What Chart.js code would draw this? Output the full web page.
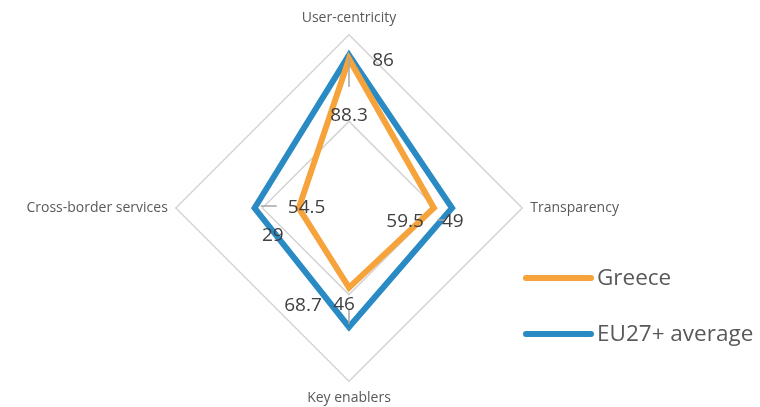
<!DOCTYPE html>
<html>
<head>
<meta charset="utf-8">
<script src="https://cdn.jsdelivr.net/npm/chart.js@4.4.1/dist/chart.umd.min.js"></script>
<style>
  html, body { margin: 0; padding: 0; background: #ffffff; }
  #wrap { position: relative; width: 760px; height: 407px; }
</style>
</head>
<body>
<div id="wrap"><canvas id="radar"></canvas></div>
<script>
// ---- data ----
const axes = ["User-centricity", "Transparency", "Key enablers", "Cross-border services"];
const seriesNames = ["Greece", "EU27+ average"];
const greece = [86, 49, 46, 29];
const eu27 = [88.3, 59.5, 68.7, 54.5];

const orange = "#f5a33a";
const blue = "#2a8bc4";
const textGrey = "#595959";
const font = "'Open Sans', sans-serif";

// label offsets from each point, in px (text centre)
const labelOffsets = [
  [[34, 2], [19, 14], [-5, 17], [-26, 28]],   // Greece
  [[0, 61], [-47, 14], [-46, -21], [52, 0]]   // EU27+
];
// small grey leader ticks, relative to the EU27+ points
const leaders = [
  [[0, 3], [0, 32]],
  [[-6, 12], [-15, 12]],
  [[0, -3], [0, -18]],
  [[6, -2], [22, -2]]
];

/* draws value labels, leader ticks and the legend */
const valueLabels = {
  id: "valueLabels",
  afterDatasetsDraw(chart) {
    const ctx = chart.ctx;
    const r = chart.scales.r;
    ctx.save();

    // leader ticks
    ctx.strokeStyle = "#a6a6a6";
    ctx.lineWidth = 1.5;
    eu27.forEach((v, i) => {
      const p = r.getPointPositionForValue(i, v);
      const [a, b] = leaders[i];
      ctx.beginPath();
      ctx.moveTo(p.x + a[0], p.y + a[1]);
      ctx.lineTo(p.x + b[0], p.y + b[1]);
      ctx.stroke();
    });

    ctx.fillStyle = "#404040";
    ctx.font = "19px " + font;
    ctx.textAlign = "center";
    ctx.textBaseline = "middle";
    [greece, eu27].forEach((vals, d) => {
      vals.forEach((v, i) => {
        const p = r.getPointPositionForValue(i, v);
        const off = labelOffsets[d][i];
        ctx.fillText(String(v), p.x + off[0], p.y + off[1]);
      });
    });

    // legend on the right
    const legendY = [278, 334];
    [orange, blue].forEach((c, i) => {
      ctx.strokeStyle = c;
      ctx.lineWidth = 6;
      ctx.lineCap = "round";
      ctx.beginPath();
      ctx.moveTo(526, legendY[i]);
      ctx.lineTo(591, legendY[i]);
      ctx.stroke();
      ctx.fillStyle = textGrey;
      ctx.font = "22.5px " + font;
      ctx.textAlign = "left";
      ctx.fillText(seriesNames[i], 597, legendY[i] + 1);
    });
    ctx.restore();
  }
};

new Chart(document.getElementById("radar"), {
  type: "radar",
  data: {
    labels: axes,
    datasets: [
      {
        label: seriesNames[0],
        data: greece,
        borderColor: orange,
        borderWidth: 6,
        borderJoinStyle: "miter",
        backgroundColor: "transparent",
        fill: false,
        pointRadius: 0
      },
      {
        label: seriesNames[1],
        data: eu27,
        borderColor: blue,
        borderWidth: 6,
        borderJoinStyle: "miter",
        backgroundColor: "transparent",
        fill: false,
        pointRadius: 0
      }
    ]
  },
  options: {
    responsive: true,
    maintainAspectRatio: false,
    animation: false,
    layout: { padding: { top: 10, bottom: 0, left: 0, right: 62 } },
    plugins: {
      legend: { display: false },
      tooltip: { enabled: false }
    },
    scales: {
      r: {
        min: 0,
        max: 100,
        ticks: { display: false, stepSize: 50 },
        grid: { color: "#d4d4d4", lineWidth: 1.5 },
        angleLines: { display: false },
        pointLabels: {
          color: textGrey,
          padding: 8,
          font: { family: "'Open Sans', sans-serif", size: 14 }
        }
      }
    }
  },
  plugins: [valueLabels]
});
</script>
</body>
</html>
